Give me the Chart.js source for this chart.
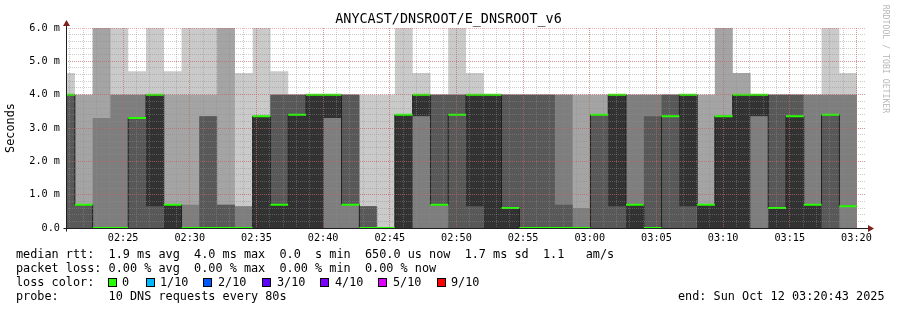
<!DOCTYPE html>
<html>
<head>
<meta charset="utf-8">
<script src="https://cdn.jsdelivr.net/npm/chart.js@4/dist/chart.umd.min.js"></script>
<style>
html,body{margin:0;padding:0;background:#fff;}
#wrap{position:relative;width:897px;height:310px;overflow:hidden;background:#fff;font-family:'DejaVu Sans Mono',monospace;}
#c{position:absolute;left:0;top:0;}
.t{position:absolute;white-space:pre;color:#000;font-size:11.83px;line-height:14px;font-family:'DejaVu Sans Mono',monospace;}
.sq{position:absolute;width:7px;height:7px;border:1px solid #000;}
</style>
</head>
<body>
<div id="wrap">
<canvas id="c" width="897" height="310"></canvas>
<div class="t" style="left:0;top:11px;width:897px;text-align:center;font-size:13.45px;line-height:16px;">ANYCAST/DNSROOT/E_DNSROOT_v6</div>
<div class="t" style="left:826px;top:54px;width:120px;height:10px;text-align:center;font-size:8.2px;line-height:10px;color:#b8b8b8;transform:rotate(90deg);transform-origin:60px 5px;">RRDTOOL / TOBI OETIKER</div>
<div class="t" style="left:16px;top:247px;">median rtt:  1.9 ms avg  4.0 ms max  0.0  s min  650.0 us now  1.7 ms sd  1.1   am/s</div>
<div class="t" style="left:16px;top:261px;">packet loss: 0.00 % avg  0.00 % max  0.00 % min  0.00 % now</div>
<div class="t" style="left:16px;top:275px;">loss color:</div>
<div id="losslegend"></div>
<div class="t" style="left:16px;top:289px;">probe:       10 DNS requests every 80s</div>
<div class="t" style="left:678px;top:289px;">end: Sun Oct 12 03:20:43 2025</div>
</div>
<script>
// ---- data (ms), one value per 80 s slot, sorted pings 1..10 ----
const rangeStart = '02:20:43';
const rangeSeconds = 3600;
const slotSeconds = 80;
const firstSlotStart = -40; // seconds relative to rangeStart
const ping1 = [0,0,0,0,0,0,0,0,0,0, 0,0,0,0,0,0,0,0,0,0, 0,0,0,0,0,0,0,0,0,0, 0,0,0,0,0,0,0,0,0,0, 0,0,0,0,0];
const ping2 = [0,0,0,0,0,0,0,0,0,0, 0,0,0,0,0,0,0,0,0,0, 0,0,0,0,0,0,0,0,0,0, 0,0,0,0,0,0,0,0,0,0, 0,0,0,0,0];
const ping3 = [0,0,0,0,0,0,0,0,0,0, 0,0,0,0,0,0,0,0,0,0, 0,0,0,0,0,0,0,0,0,0, 0,0,0,0,0,0,0,0,0,0, 0,0,0,0,0];
const ping4 = [0,0,0,0,0,0,0,0,0,0, 0,0,0,0,0,3.3,0.7,0,0,0, 3.35,0.7,0,0,0,0,0,0,0,0, 0,0,0,0,0,0,0,0,0,3.35, 0,0,0,0,0.65];
const ping5 = [4.0,0.7,0,0,3.3,0.65,0,0,0,0, 0,0,0,0,0,3.3,0.7,0,0,0, 3.35,0.7,3.4,0.65,0,0,0,0,0,0, 3.4,0.65,0,0,3.35,0.65,0,0,0,3.35, 0,0,0,3.4,0.65];
const ping6 = [4.0,0.7,0,0,3.3,4.0,0.7,0,0,0, 0,3.35,0.7,3.4,4.0,4.0,0.7,0,0,3.4, 4.0,0.7,3.4,4.0,4.0,0.6,0,0,0,0, 3.4,4.0,0.7,0,3.35,4.0,0.7,3.35,4.0,4.0, 0.6,3.35,0.7,3.4,0.65];
const ping7 = [4.0,0.7,0,0,3.3,4.0,0.7,0,3.35,0.7, 0,3.35,4.0,4.0,4.0,4.0,4.0,0.65,0,3.4, 4.0,4.0,4.0,4.0,4.0,4.0,4.0,4.0,0.7,0, 3.4,4.0,0.7,3.35,4.0,4.0,0.7,3.35,4.0,4.0, 4.0,4.0,0.7,3.4,0.65];
const ping8 = [4.0,0.7,3.3,4.0,4.0,4.0,0.7,0.7,3.35,0.7, 0.65,3.35,4.0,4.0,4.0,4.0,4.0,0.65,0,3.4, 4.0,4.0,4.0,4.0,4.0,4.0,4.0,4.0,4.0,0.6, 3.4,4.0,4.0,4.0,4.0,4.0,0.7,3.35,4.0,4.0, 4.0,4.0,4.0,4.0,4.0];
const ping9 = [4.0,4.0,6.0,4.0,4.0,4.0,4.0,4.0,4.0,6.0, 0.65,3.35,4.0,4.0,4.0,4.0,4.0,0.65,0,3.4, 4.0,4.0,4.0,4.0,4.0,4.0,4.0,4.0,4.0,4.0, 4.0,4.0,4.0,4.0,4.0,4.0,4.0,6.0,4.65,4.0, 4.0,4.0,4.0,4.0,4.0];
const ping10 = [4.65,4.0,6.0,6.0,4.7,6.0,4.7,6.0,6.0,6.0, 4.65,6.0,4.7,4.0,4.0,4.0,4.0,4.0,4.0,6.0, 4.65,4.0,6.0,4.65,4.0,4.0,4.0,4.0,4.0,4.0, 4.0,4.0,4.0,4.0,4.0,4.0,4.0,6.0,4.65,4.0, 4.0,4.0,4.0,6.0,4.65];
const median = [4.0,0.7,0,0,3.3,4.0,0.7,0,0,0, 0,3.35,0.7,3.4,4.0,4.0,0.7,0,0,3.4, 4.0,0.7,3.4,4.0,4.0,0.6,0,0,0,0, 3.4,4.0,0.7,0,3.35,4.0,0.7,3.35,4.0,4.0, 0.6,3.35,0.7,3.4,0.65];

const xTickLabels = ['02:25','02:30','02:35','02:40','02:45','02:50','02:55','03:00','03:05','03:10','03:15','03:20'];
const yTickValues = [0,1,2,3,4,5,6];
const yTickLabels = ['0.0','1.0 m','2.0 m','3.0 m','4.0 m','5.0 m','6.0 m'];
const lossLabels = ['0','1/10','2/10','3/10','4/10','5/10','9/10'];
const lossColors = ['#26ff00','#00b8ff','#0059ff','#5e00ff','#7e00ff','#dd00ff','#ff0000'];

// ---- styling ----
const smokeColors = ['#ffffff','#cacaca','#a4a4a4','#7e7e7e','#585858','#323232','#585858','#7e7e7e','#a4a4a4','#cacaca'];
const FONT = "'DejaVu Sans Mono', monospace";
const lossSquareX = [108,146,203,262,320,378,437];
const lossTextX = [122,160,218,277,335,393,451];

// legend squares (HTML text)
const ll = document.getElementById('losslegend');
lossLabels.forEach((lab, i) => {
  const s = document.createElement('div'); s.className = 'sq';
  s.style.left = lossSquareX[i] + 'px'; s.style.top = '278px'; s.style.background = lossColors[i];
  ll.appendChild(s);
  const t = document.createElement('div'); t.className = 't';
  t.style.left = lossTextX[i] + 'px'; t.style.top = '275px'; t.textContent = lab;
  ll.appendChild(t);
});

function toSec(hhmm) { // seconds from rangeStart
  const p = hhmm.split(':').map(Number), q = rangeStart.split(':').map(Number);
  return (p[0]*3600 + p[1]*60 + (p[2]||0)) - (q[0]*3600 + q[1]*60 + q[2]);
}
const xTickSeconds = xTickLabels.map(toSec);
const xMinor = []; for (let s = toSec('02:21'); s <= rangeSeconds; s += 60) xMinor.push(s);
const yMinor = []; for (let k = 1; k < 30; k++) yMinor.push(k * 0.2);

// each point's value holds from its x until the next point (stepped 'before')
function stepPoints(arr) {
  const pts = arr.map((v, i) => ({x: firstSlotStart + i * slotSeconds, y: v}));
  pts.push({x: firstSlotStart + arr.length * slotSeconds, y: arr[arr.length - 1]});
  return pts;
}
function segPoints(arr) {
  const pts = [];
  arr.forEach((v, i) => {
    const a = firstSlotStart + i * slotSeconds, b = a + slotSeconds;
    pts.push({x: a, y: v}, {x: b, y: v}, {x: b, y: null});
  });
  return pts;
}

const pings = [ping1, ping2, ping3, ping4, ping5, ping6, ping7, ping8, ping9, ping10];
const datasets = [];
datasets.push({label: 'loss 0', data: segPoints(median), borderColor: lossColors[0], borderWidth: 2,
  pointRadius: 0, fill: false, spanGaps: false, order: 0, clip: 0, borderCapStyle: 'butt'});
datasets.push({label: 'median', data: stepPoints(median), stepped: 'before', borderColor: '#202020', borderWidth: 1,
  pointRadius: 0, fill: false, order: 1, clip: 0});
for (let k = 9; k >= 0; k--) {
  datasets.push({label: 'ping' + (k + 1), data: stepPoints(pings[k]), stepped: 'before', fill: 'origin',
    backgroundColor: smokeColors[k], borderColor: 'rgba(0,0,0,0)', borderWidth: 0,
    pointRadius: 0, order: k + 2, clip: 0});
}

const MAJOR = 'rgba(222,79,79,0.45)';
const MINOR = 'rgba(143,143,143,0.45)';

const axesPlugin = {
  id: 'rrdAxes',
  afterDraw(chart) {
    const {ctx, chartArea: a} = chart;
    const x0 = Math.round(a.left) + 0.5, y0 = Math.round(a.bottom) + 0.5;
    ctx.save();
    ctx.strokeStyle = 'rgb(31,31,31)'; ctx.lineWidth = 1;
    ctx.beginPath();
    ctx.moveTo(x0 - 3, y0); ctx.lineTo(a.right + 4, y0);
    ctx.moveTo(x0, y0 + 3); ctx.lineTo(x0, a.top - 4);
    ctx.stroke();
    ctx.fillStyle = 'rgb(128,31,31)';
    ctx.beginPath();
    ctx.moveTo(a.right + 2, y0 - 3.5); ctx.lineTo(a.right + 2, y0 + 3.5); ctx.lineTo(a.right + 8, y0); ctx.closePath(); ctx.fill();
    ctx.beginPath();
    ctx.moveTo(x0 - 3.5, a.top - 2); ctx.lineTo(x0 + 3.5, a.top - 2); ctx.lineTo(x0, a.top - 8); ctx.closePath(); ctx.fill();
    ctx.restore();
  }
};

new Chart(document.getElementById('c'), {
  type: 'line',
  data: {datasets},
  plugins: [axesPlugin],
  options: {
    responsive: false, animation: false, devicePixelRatio: 1, events: [],
    layout: {padding: {left: 0, right: 31, top: 28, bottom: 62}},
    plugins: {legend: {display: false}, tooltip: {enabled: false}, title: {display: false}},
    scales: {
      x: {type: 'linear', position: 'bottom', min: 0, max: rangeSeconds,
        afterBuildTicks: s => { s.ticks = xTickSeconds.map(v => ({value: v})); },
        afterFit: s => { s.height = 20; },
        ticks: {autoSkip: false, maxRotation: 0, padding: 4, color: '#000',
          font: {family: FONT, size: 10.2}, callback: (v, i) => xTickLabels[i]},
        grid: {color: MAJOR, lineWidth: 1, drawTicks: false, z: 2},
        border: {display: false, dash: [1, 1]}
      },
      x2: {type: 'linear', position: 'bottom', min: 0, max: rangeSeconds,
        afterBuildTicks: s => { s.ticks = xMinor.map(v => ({value: v})); },
        afterFit: s => { s.height = 0; },
        ticks: {display: false},
        grid: {color: MINOR, lineWidth: 1, drawTicks: false, z: 1},
        border: {display: false, dash: [1, 1]}
      },
      y: {type: 'linear', position: 'left', min: 0, max: 6,
        afterBuildTicks: s => { s.ticks = yTickValues.map(v => ({value: v})); },
        afterFit: s => { s.width = 66; },
        ticks: {padding: 6, color: '#000', font: {family: FONT, size: 10.2}, callback: (v, i) => yTickLabels[i]},
        grid: {color: MAJOR, lineWidth: 1, drawTicks: false, z: 2},
        border: {display: false, dash: [1, 1]},
        title: {display: true, text: 'Seconds', color: '#000', font: {family: FONT, size: 11.83}, padding: {top: 4, bottom: 0}}
      },
      y2: {type: 'linear', position: 'left', min: 0, max: 6,
        afterBuildTicks: s => { s.ticks = yMinor.map(v => ({value: v})); },
        afterFit: s => { s.width = 0; },
        ticks: {display: false},
        grid: {color: MINOR, lineWidth: 1, drawTicks: false, z: 1},
        border: {display: false, dash: [1, 1]}
      }
    }
  }
});
</script>
</body>
</html>
